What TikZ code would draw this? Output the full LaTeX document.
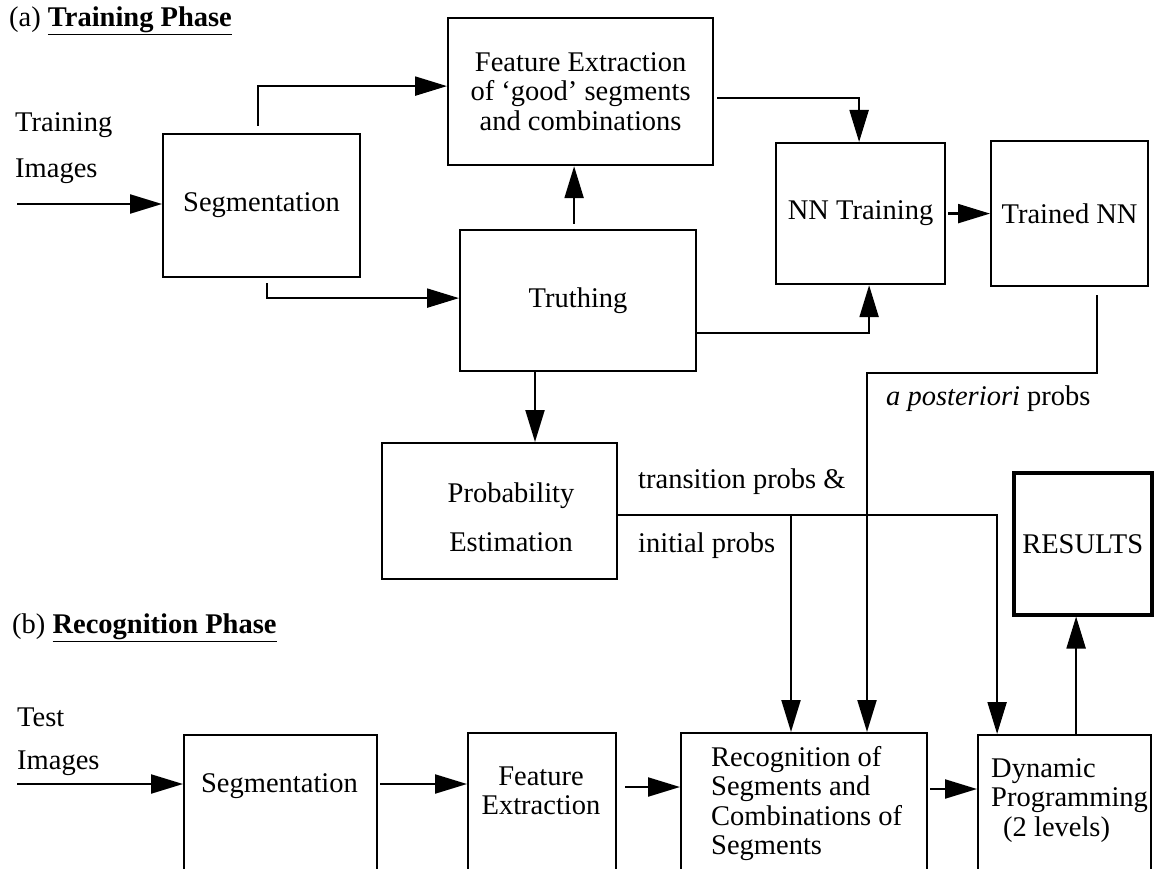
\documentclass[tikz,border=0pt]{standalone}
\usepackage{fontspec}
\setmainfont{Liberation Serif}
\usetikzlibrary{arrows.meta,calc}
\begin{document}
\begin{tikzpicture}[x=1pt,y=-1pt,
  every node/.style={font=\fontsize{28.5}{29.5}\selectfont},
  box/.style={draw, line width=2.2pt, inner sep=0pt, anchor=north west, align=center},
  txt/.style={inner sep=0pt},
  arr/.style={line width=2.2pt, -{Triangle[length=32pt,width=19pt]}},
]
\useasboundingbox (0,0) rectangle (1162,869);

% ---------- (a) training phase ----------
\node[txt, anchor=west] (titleA) at (9,21) {(a) \textbf{\underline{Training Phase}}};
\node[txt, anchor=north west, align=left] (trainimg) at (15,112.5) {Training\\[16.5pt]Images};
\coordinate (inA) at (17,204);

\node[box, minimum width=197pt, minimum height=143pt] (segA) at (162,133) {Segmentation};
\node[box, minimum width=265pt, minimum height=147pt] (feA) at (447,17)
  {Feature Extraction\\of `good' segments\\and combinations};
\node[box, minimum width=236pt, minimum height=141pt] (truth) at (459,229) {Truthing};
\node[box, minimum width=169pt, minimum height=141pt] (nntr) at (775,142) {NN Training};
\node[box, minimum width=157pt, minimum height=145pt] (trnn) at (990,140) {Trained NN};

\node[box, minimum width=235pt, minimum height=136pt] (prob) at (381,442) {};
\node[txt, align=center] (probt) at (511,517) {Probability\\[20pt]Estimation};

\node[txt, anchor=base west] (trans) at (638,488) {transition probs \&};
\node[txt, anchor=base west] (init) at (638,552) {initial probs};
\node[txt, anchor=base west] (apost) at (886,405) {\textit{a posteriori} probs};

\node[box, line width=3.5pt, minimum width=138pt, minimum height=142pt] (results) at (1012,471) {RESULTS};

% ---------- (b) recognition phase ----------
\node[txt, anchor=west] (titleB) at (12,628) {(b) \textbf{\underline{Recognition Phase}}};
\node[txt, anchor=north west, align=left] (testimg) at (17,708) {Test\\[13.5pt]Images};
\coordinate (inB) at (17,784);
\coordinate (rowB) at (0,787);
\coordinate (rowC) at (0,789);

\node[box, minimum width=193pt, minimum height=200pt] (segB) at (183,734) {};
\node[txt] (segBt) at (279.5,786) {Segmentation};
\node[box, minimum width=148pt, minimum height=200pt] (feB) at (467,732) {};
\node[txt, align=center] (feBt) at (541,791) {Feature\\Extraction};
\node[box, minimum width=246pt, minimum height=200pt] (recog) at (680,732) {};
\node[txt, anchor=north west, align=left] (recogt) at (711,746)
  {Recognition of\\Segments and\\Combinations of\\Segments};
\node[box, minimum width=173pt, minimum height=200pt] (dyn) at (977,734) {};
\node[txt, anchor=north west, align=left] (dynt) at (991,758)
  {Dynamic\\Programming\\\hspace*{12pt}(2 levels)};

% ---------- connectors, training ----------
\draw[arr] (inA) -- (inA -| segA.west);
\draw[arr] ([xshift=-3.5pt,yshift=7pt]segA.north) |- ([yshift=5.5pt]feA.west);
\draw[arr] ([xshift=5.5pt,yshift=-5pt]segA.south) |- ([yshift=2.5pt]truth.west);
\draw[arr] ([xshift=-4pt,yshift=5pt]truth.north) -- ([xshift=-4pt]truth.north |- feA.south);
\draw[arr] ([xshift=3pt,yshift=-6.5pt]feA.east) -| ([xshift=-1.5pt]nntr.north);
\draw[arr] ([yshift=-32.5pt]truth.east) -| ([xshift=8.5pt]nntr.south);
\draw[arr, shorten <=2pt] (nntr.east) -- (trnn.west);
\draw[arr] (truth.south -| 535,0) -- (prob.north -| 535,0);

% probabilities to the recognition phase
\coordinate (tap) at (791,514);
\coordinate (bend) at (867,373);
\draw[arr] ([yshift=-4pt]prob.east) -| ([xshift=-67.5pt]dyn.north);
\draw[arr] (tap) -- (tap |- recog.north);
\draw[arr] ([xshift=27.5pt,yshift=-8pt]trnn.south) |- (bend) -- (bend |- recog.north);

% ---------- connectors, recognition ----------
\draw[arr] (inB) -- (inB -| segB.west);
\draw[arr, shorten <=2pt] (segB.east |- inB) -- (feB.west |- inB);
\draw[arr] ([xshift=8pt]feB.east |- rowB) -- (recog.west |- rowB);
\draw[arr, shorten <=2pt] (recog.east |- rowC) -- (dyn.west |- rowC);
\draw[arr] ([xshift=11.5pt]dyn.north) -- ([xshift=11.5pt]dyn.north |- results.south);
\end{tikzpicture}
\end{document}
